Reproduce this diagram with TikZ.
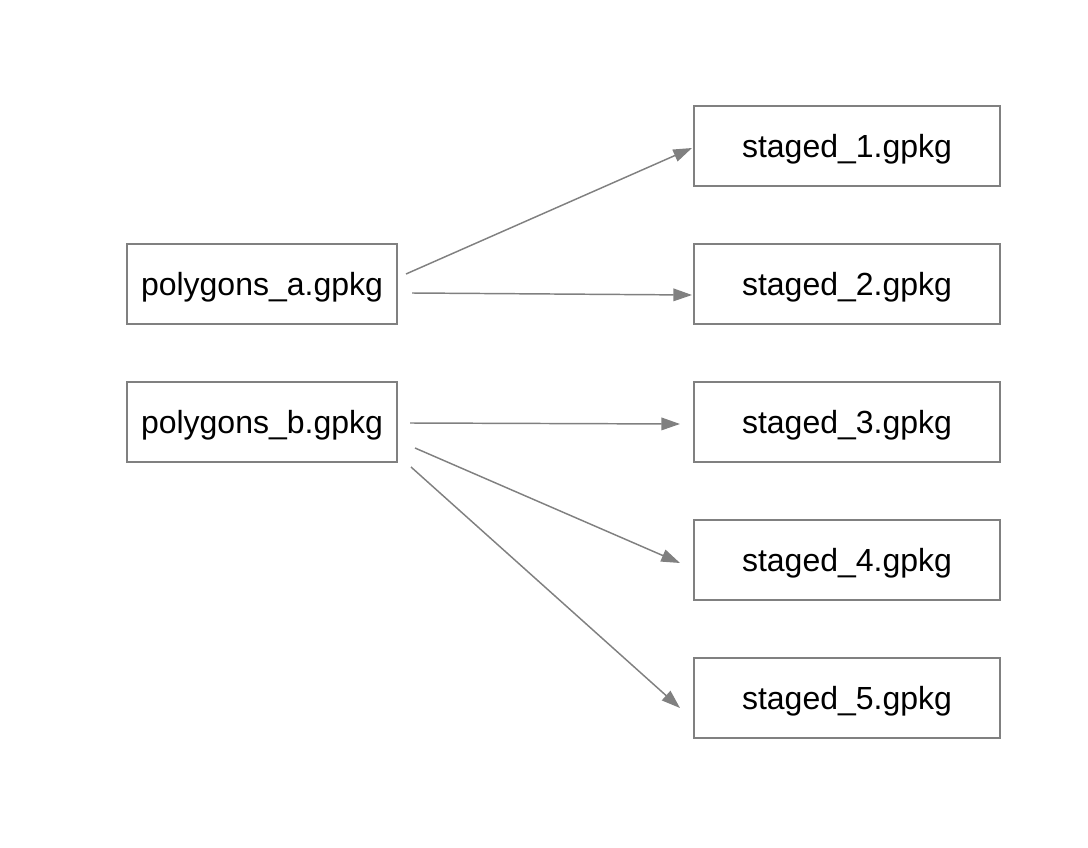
\documentclass[tikz,border=0pt]{standalone}
\usepackage{fontspec}
\setmainfont{Liberation Sans}
\usetikzlibrary{arrows.meta}
\definecolor{edgegray}{HTML}{808080}
\begin{document}
\begin{tikzpicture}[x=0.75pt,y=-0.75pt,
  boxbase/.style={draw=edgegray,line width=1.4pt,minimum height=60pt,inner sep=0pt,text height=21.7pt,text depth=5pt,font=\fontsize{24}{28}\selectfont},
  srcbox/.style={boxbase,minimum width=202.5pt},
  dstbox/.style={boxbase,minimum width=229.5pt},
  flow/.style={draw=edgegray,line width=1.1pt,-{Triangle[length=14pt,width=9.5pt]}}]
\useasboundingbox (0,0) rectangle (1088,848);
\node[srcbox] (pa) at (262,284) {polygons\_a.gpkg};
\node[srcbox] (pb) at (262,422) {polygons\_b.gpkg};
\node[dstbox] (s1) at (847,146) {staged\_1.gpkg};
\node[dstbox] (s2) at (847,284) {staged\_2.gpkg};
\node[dstbox] (s3) at (847,422) {staged\_3.gpkg};
\node[dstbox] (s4) at (847,560) {staged\_4.gpkg};
\node[dstbox] (s5) at (847,698) {staged\_5.gpkg};
\coordinate (a1) at (406,274);
\coordinate (e1) at (692,148);
\coordinate (a2) at (412,293);
\coordinate (e2) at (692,295);
\coordinate (b3) at (410,423);
\coordinate (e3) at (680,424);
\coordinate (b4) at (415,448);
\coordinate (e4) at (680,563);
\coordinate (b5) at (411,467);
\coordinate (e5) at (680,708);
\draw[flow] (a1) -- (e1);
\draw[flow] (a2) -- (e2);
\draw[flow] (b3) -- (e3);
\draw[flow] (b4) -- (e4);
\draw[flow] (b5) -- (e5);
\end{tikzpicture}
\end{document}
